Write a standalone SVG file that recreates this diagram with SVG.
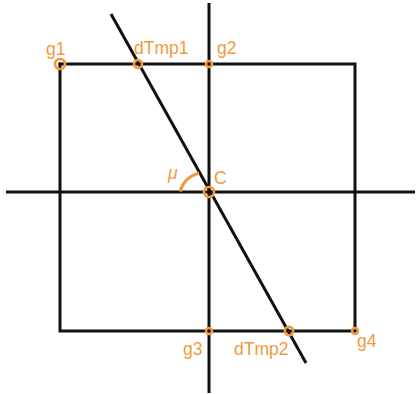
<svg xmlns="http://www.w3.org/2000/svg" width="420" height="394" viewBox="0 0 420 394">
<style>
.ln{stroke:#111;stroke-width:3;fill:none;stroke-linecap:butt}
.pt{fill:none;stroke:#f29a3a;stroke-width:2.6}
.dot{fill:#111}
.lb{font-family:"Liberation Sans",Arial,sans-serif;font-size:17.5px;fill:#f29a3a}
</style>
<rect width="420" height="394" fill="#fff"/>
<g id="connectors">
<rect class="ln" x="60" y="64" width="295" height="267"/>
<line class="ln" x1="209" y1="3" x2="209" y2="393"/>
<line class="ln" x1="6" y1="192" x2="415" y2="192"/>
<line class="ln" x1="111" y1="14" x2="306" y2="363"/>
<path d="M180,191.5 A27 27 0 0 1 199,173" fill="none" stroke="#f29a3a" stroke-width="3.2"/>
</g>
<g id="g1"><circle class="pt" cx="60" cy="64" r="5"/><circle class="dot" cx="60" cy="64" r="1.7"/><text class="lb" x="46" y="55">g1</text></g>
<g id="dTmp1"><circle class="pt" cx="138" cy="64" r="4"/><circle class="dot" cx="138" cy="64" r="1.6"/><text class="lb" x="134" y="54">dTmp1</text></g>
<g id="g2"><circle class="pt" cx="209" cy="64" r="3"/><circle class="dot" cx="209" cy="64" r="1.3"/><text class="lb" x="217" y="54">g2</text></g>
<g id="C"><circle class="pt" cx="209" cy="192" r="5"/><circle class="dot" cx="209" cy="192" r="1.7"/><text class="lb" x="214" y="184">C</text></g>
<g id="mu"><text class="lb" x="168" y="179" font-style="italic" font-size="19">μ</text></g>
<g id="g3"><circle class="pt" cx="209" cy="331" r="3"/><circle class="dot" cx="209" cy="331" r="1.3"/><text class="lb" x="183" y="355">g3</text></g>
<g id="dTmp2"><circle class="pt" cx="289" cy="331" r="4.2"/><circle class="dot" cx="289" cy="331" r="1.6"/><text class="lb" x="234" y="355">dTmp2</text></g>
<g id="g4"><circle class="pt" cx="355" cy="331" r="3"/><circle class="dot" cx="355" cy="331" r="1.3"/><text class="lb" x="357" y="347">g4</text></g>
</svg>
